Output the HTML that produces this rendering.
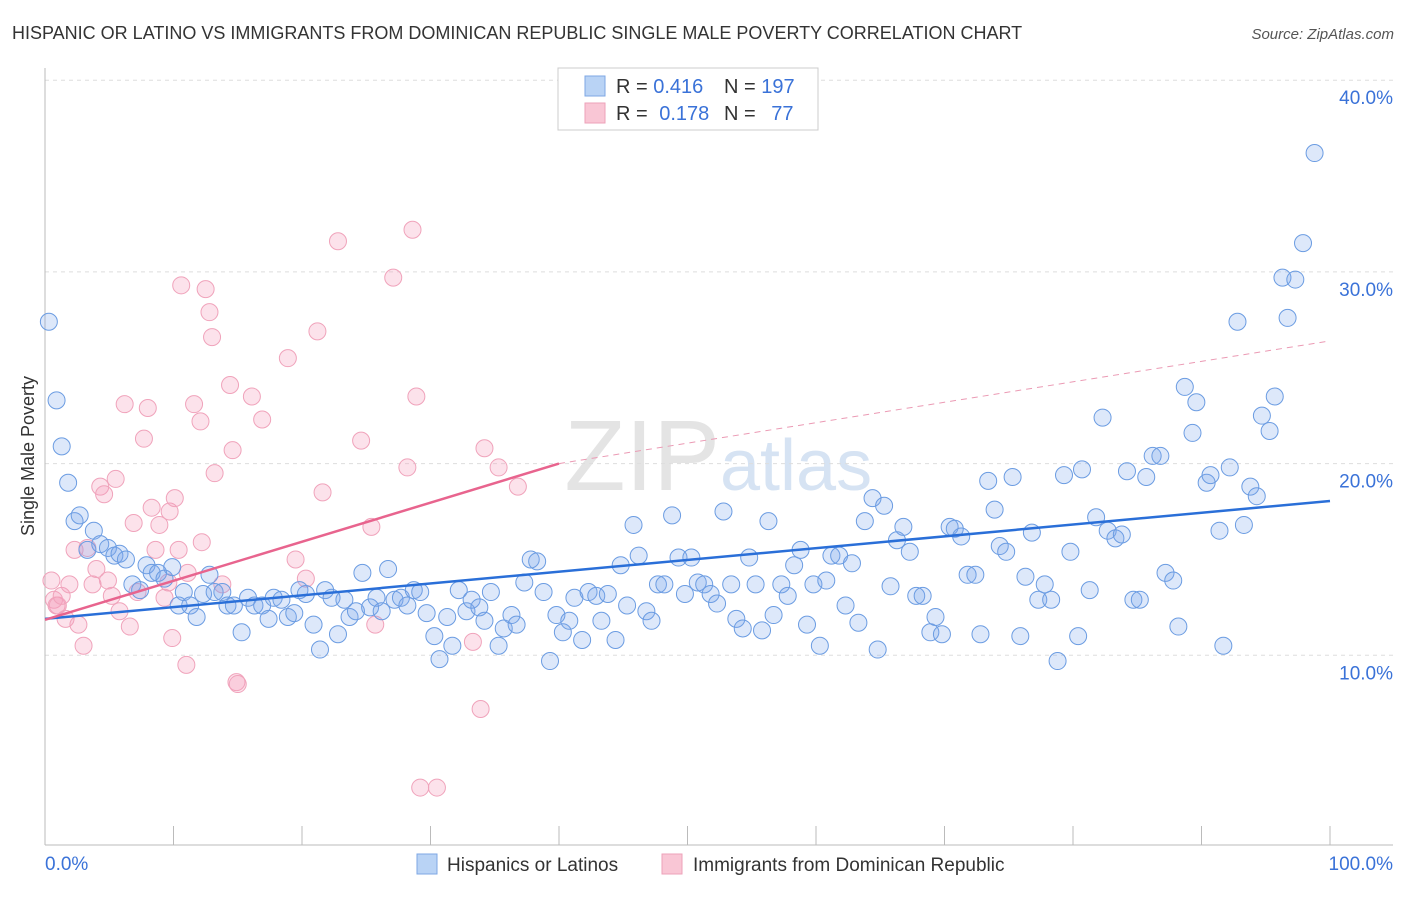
<!DOCTYPE html>
<html><head><meta charset="utf-8"><style>
body{margin:0;background:#fff;font-family:"Liberation Sans",sans-serif;}
svg text{font-family:"Liberation Sans",sans-serif;}
</style></head><body>
<svg id="chart" width="1406" height="892" xmlns="http://www.w3.org/2000/svg">
<text x="12" y="39" font-size="18" fill="#333">HISPANIC OR LATINO VS IMMIGRANTS FROM DOMINICAN REPUBLIC SINGLE MALE POVERTY CORRELATION CHART</text>
<text x="1394" y="39" font-size="15" fill="#555" font-style="italic" text-anchor="end">Source: ZipAtlas.com</text>
<text x="720" y="490" font-size="100" fill="#e4e4e4" text-anchor="end" font-family="Liberation Serif">ZIP</text>
<text x="720" y="490" font-size="72" fill="#d6e3f3">atlas</text>
<g id="grid"></g>
<g id="axes"></g>
<g id="marks"></g>
<text x="34" y="456" font-size="18" fill="#333" text-anchor="middle" transform="rotate(-90 34 456)">Single Male Poverty</text>
<g>
<rect x="558" y="68" width="260" height="62" fill="#fff" stroke="#ccc"/>
<rect x="585" y="76" width="20" height="20" fill="#b9d3f5" stroke="#7ea7e4"/>
<rect x="585" y="103" width="20" height="20" fill="#f9c6d5" stroke="#eda2b9"/>
<text x="616" y="93" font-size="20" fill="#333">R = <tspan fill="#3a72d8">0.416</tspan></text>
<text x="724" y="93" font-size="20" fill="#333">N = <tspan fill="#3a72d8">197</tspan></text>
<text x="616" y="120" font-size="20" fill="#333">R = <tspan fill="#3a72d8" dx="6">0.178</tspan></text>
<text x="724" y="120" font-size="20" fill="#333">N = <tspan fill="#3a72d8" dx="10">77</tspan></text>
</g>
<g>
<rect x="417" y="854" width="20" height="20" fill="#b9d3f5" stroke="#7ea7e4"/>
<text x="447" y="871" font-size="19" fill="#333">Hispanics or Latinos</text>
<rect x="662" y="854" width="20" height="20" fill="#f9c6d5" stroke="#eda2b9"/>
<text x="693" y="871" font-size="19" fill="#333">Immigrants from Dominican Republic</text>
</g>
</svg>
<script>
const yTicks=[10,20,30,40];
const yTickLabels=["10.0%","20.0%","30.0%","40.0%"];
const xTickVals=[0,10,20,30,40,50,60,70,80,90,100];
const blueX=[0.3,0.9,1.3,1.8,2.3,2.7,3.3,3.8,4.3,4.9,5.4,5.8,6.3,6.8,7.4,7.9,8.3,8.8,9.3,9.9,10.4,10.8,11.3,11.8,12.3,12.8,13.2,13.8,14.2,14.7,15.3,15.8,16.3,16.9,17.4,17.8,18.4,18.9,19.4,19.8,20.3,20.9,21.4,21.8,22.3,22.8,23.3,23.7,24.2,24.7,25.3,25.8,26.2,26.7,27.2,27.7,28.2,28.7,29.2,29.7,30.3,30.7,31.3,31.7,32.2,32.8,33.2,33.8,34.2,34.7,35.3,35.7,36.3,36.7,37.3,37.8,38.3,38.8,39.3,39.8,40.3,40.8,41.2,41.8,42.3,42.9,43.3,43.8,44.4,44.8,45.3,45.8,46.2,46.8,47.2,47.7,48.2,48.8,49.3,49.8,50.3,50.8,51.3,51.8,52.3,52.8,53.4,53.8,54.3,54.8,55.3,55.8,56.3,56.7,57.3,57.8,58.3,58.8,59.3,59.8,60.3,60.8,61.2,61.8,62.3,62.8,63.3,63.8,64.4,64.8,65.3,65.8,66.3,66.8,67.3,67.8,68.3,68.9,69.3,69.8,70.4,70.8,71.3,71.8,72.4,72.8,73.4,73.9,74.3,74.8,75.3,75.9,76.3,76.8,77.3,77.8,78.3,78.8,79.3,79.8,80.4,80.7,81.3,81.8,82.3,82.7,83.3,83.8,84.2,84.7,85.2,85.7,86.2,86.8,87.2,87.8,88.2,88.7,89.3,89.6,90.4,90.7,91.4,91.7,92.2,92.8,93.3,93.8,94.3,94.7,95.3,95.7,96.3,96.7,97.3,97.9,98.8];
const blueY=[27.4,23.3,20.9,19.0,17.0,17.3,15.5,16.5,15.8,15.6,15.2,15.3,15.0,13.7,13.4,14.7,14.3,14.3,14.0,14.6,12.6,13.3,12.6,12.0,13.2,14.2,13.3,13.3,12.6,12.6,11.2,13.0,12.6,12.6,11.9,13.0,12.9,12.0,12.2,13.4,13.2,11.6,10.3,13.4,13.0,11.1,12.9,12.0,12.3,14.3,12.5,13.0,12.3,14.5,12.9,13.0,12.6,13.4,13.3,12.2,11.0,9.8,12.0,10.5,13.4,12.3,12.9,12.5,11.8,13.3,10.5,11.4,12.1,11.6,13.8,15.0,14.9,13.3,9.7,12.1,11.2,11.8,13.0,10.8,13.3,13.1,11.8,13.2,10.8,14.7,12.6,16.8,15.2,12.3,11.8,13.7,13.7,17.3,15.1,13.2,15.1,13.8,13.7,13.2,12.7,17.5,13.7,11.9,11.4,15.1,13.7,11.3,17.0,12.1,13.7,13.1,14.7,15.5,11.6,13.7,10.5,13.9,15.2,15.2,12.6,14.8,11.7,17.0,18.2,10.3,17.8,13.6,16.0,16.7,15.4,13.1,13.1,11.2,12.0,11.1,16.7,16.6,16.2,14.2,14.2,11.1,19.1,17.6,15.7,15.4,19.3,11.0,14.1,16.4,12.9,13.7,12.9,9.7,19.4,15.4,11.0,19.7,13.4,17.2,22.4,16.5,16.1,16.3,19.6,12.9,12.9,19.3,20.4,20.4,14.3,13.9,11.5,24.0,21.6,23.2,19.0,19.4,16.5,10.5,19.8,27.4,16.8,18.8,18.3,22.5,21.7,23.5,29.7,27.6,29.6,31.5,36.2];
const pinkX=[0.5,0.7,0.9,1.0,1.3,1.6,1.9,2.3,2.6,3.0,3.3,3.7,4.0,4.3,4.6,4.9,5.2,5.5,5.8,6.2,6.6,6.9,7.2,7.7,8.0,8.3,8.6,8.9,9.3,9.6,9.7,9.9,10.1,10.4,10.6,11.0,11.1,11.6,12.1,12.2,12.5,12.8,13.0,13.2,13.8,14.4,14.6,14.9,15.0,16.1,16.9,18.9,19.5,20.3,21.2,21.6,22.8,24.6,25.4,25.7,27.1,28.2,28.6,28.9,29.2,30.5,33.3,33.9,34.2,35.3,36.8];
const pinkY=[13.9,12.9,12.6,12.6,13.1,11.9,13.7,15.5,11.6,10.5,15.6,13.7,14.5,18.8,18.4,13.9,13.1,19.2,12.3,23.1,11.5,16.9,13.3,21.3,22.9,17.7,15.5,16.8,13.0,13.8,17.5,10.9,18.2,15.5,29.3,9.5,14.3,23.1,22.2,15.9,29.1,27.9,26.6,19.5,13.7,24.1,20.7,8.6,8.5,23.5,22.3,25.5,15.0,14.0,26.9,18.5,31.6,21.2,16.7,11.6,29.7,19.8,32.2,23.5,3.1,3.1,10.7,7.2,20.8,19.8,18.8];
const blueTrendY=[11.9,18.05];
const pinkSolidX=[0,40];
const pinkSolidY=[11.85,20.0];
const pinkDashX=[40,100];
const pinkDashY=[20.0,26.4];

const NS="http://www.w3.org/2000/svg";
const X0=45,X1=1330,YB=847,PX=19.17;
const sx=v=>X0+(X1-X0)*v/100;
const sy=v=>YB-v*PX;
function mk(tag,attrs,parent){const e=document.createElementNS(NS,tag);for(const k in attrs)e.setAttribute(k,attrs[k]);document.getElementById(parent).appendChild(e);return e;}

yTicks.forEach((t,i)=>{
  const l=mk('line',{x1:45,x2:1393,y1:sy(t),y2:sy(t),stroke:'#ddd','stroke-dasharray':'4,4'},'grid');
  
  
  const tx=mk('text',{x:1393,y:sy(t)+24,'font-size':19,fill:'#3a72d8','text-anchor':'end'},'grid');
  tx.textContent=yTickLabels[i];
  
  
});
let ax=mk('line',{x1:45,x2:45,y1:68,y2:845,stroke:'#bbb'},'axes');


ax=mk('line',{x1:45,x2:1393,y1:845,y2:845,stroke:'#bbb'},'axes');


xTickVals.forEach(v=>{
  if(v===0)return;
  const t=mk('line',{x1:sx(v),x2:sx(v),y1:826,y2:845,stroke:'#bbb'},'axes');
  
  
});
let xl=mk('text',{x:45,y:870,'font-size':19,fill:'#3a72d8'},'axes');xl.textContent='0.0%';


xl=mk('text',{x:1393,y:870,'font-size':19,fill:'#3a72d8','text-anchor':'end'},'axes');xl.textContent='100.0%';



pinkX.forEach((x,i)=>{
  const c=mk('circle',{cx:sx(x),cy:sy(pinkY[i]),r:8.5,fill:'rgba(244,160,190,0.3)',stroke:'#f0a3bb','stroke-width':1},'marks');
  
  
});
blueX.forEach((x,i)=>{
  const c=mk('circle',{cx:sx(x),cy:sy(blueY[i]),r:8.5,fill:'rgba(120,165,235,0.25)',stroke:'#6b9ce2','stroke-width':1},'marks');
  
  
});
let tl=mk('line',{x1:sx(0),y1:sy(blueTrendY[0]),x2:sx(100),y2:sy(blueTrendY[1]),stroke:'#2a6fd8','stroke-width':2.5},'marks');


tl=mk('line',{x1:sx(pinkSolidX[0]),y1:sy(pinkSolidY[0]),x2:sx(pinkSolidX[1]),y2:sy(pinkSolidY[1]),stroke:'#e8648e','stroke-width':2.5},'marks');


tl=mk('line',{x1:sx(pinkDashX[0]),y1:sy(pinkDashY[0]),x2:sx(pinkDashX[1]),y2:sy(pinkDashY[1]),stroke:'#eb9ab4','stroke-width':1,'stroke-dasharray':'6,5'},'marks');


</script>
</body></html>
